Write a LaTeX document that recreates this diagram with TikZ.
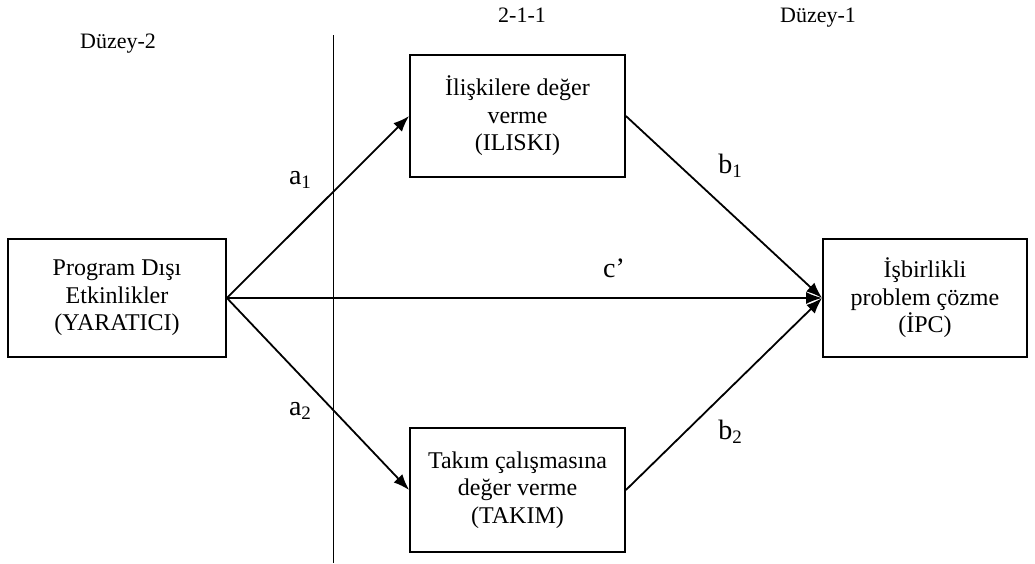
\documentclass[tikz,border=0pt]{standalone}
\usepackage{fontspec}
\setmainfont{Liberation Serif}
\usetikzlibrary{arrows.meta}
\newcommand{\mysub}[1]{\raisebox{-4pt}{\fontsize{19}{20}\selectfont #1}}
\begin{document}
\begin{tikzpicture}[x=1pt,y=-1pt,
 box/.style={draw,line width=1.8pt,align=center,font=\fontsize{24}{27.5}\selectfont,inner sep=0pt},
 arr/.style={line width=1.8pt,-{Latex[length=16pt,width=12pt]}},
 lbl/.style={font=\fontsize{22}{26}\selectfont,inner sep=0pt},
 coef/.style={font=\fontsize{28}{32}\selectfont,inner sep=0pt}]
\useasboundingbox (0,0) rectangle (1035,563);
\node[box,minimum width=218pt,minimum height=118pt] (x) at (117,298) {Program Dışı\\Etkinlikler\\(YARATICI)};
\node[box,minimum width=215pt,minimum height=122pt] (m1) at (517.5,116) {İlişkilere değer\\verme\\(ILISKI)};
\node[box,minimum width=215pt,minimum height=124pt] (m2) at (517.5,490) {Takım çalışmasına\\değer verme\\(TAKIM)};
\node[box,minimum width=204pt,minimum height=118pt] (y) at (925,298) {İşbirlikli\\problem çözme\\(İPC)};
\coordinate (vt) at (333,35);
\coordinate (vb) at (333,563);
\draw[line width=0.9pt] (vt) -- (vb);
\draw[arr] (x.east) -- (m1.west);
\draw[arr] (x.east) -- (m2.west);
\draw[arr] (x.east) -- (y.west);
\draw[arr] (m1.east) -- (y.west);
\draw[arr] (m2.east) -- (y.west);
\node[lbl] (l2) at (118,44) {Düzey-2};
\node[lbl] (l211) at (522,15) {2-1-1};
\node[lbl] (l1) at (818,18) {Düzey-1};
\node[coef] (a1) at (300,180) {a\mysub{1}};
\node[coef] (a2) at (300,411) {a\mysub{2}};
\node[coef] (b1) at (730,166) {b\mysub{1}};
\node[coef] (b2) at (730,432) {b\mysub{2}};
\node[coef] (c) at (614,268) {c’};
\end{tikzpicture}
\end{document}
